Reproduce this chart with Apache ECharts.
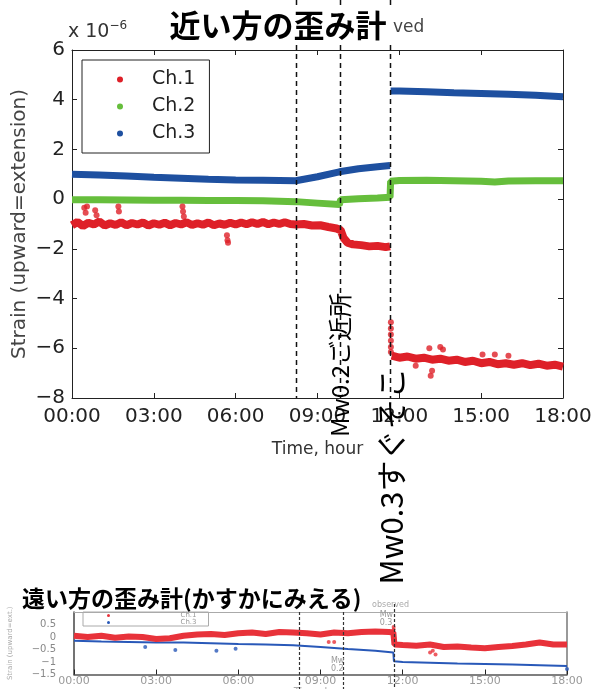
<!DOCTYPE html>
<html><head><meta charset="utf-8">
<script src="https://cdn.jsdelivr.net/npm/echarts@6/dist/echarts.min.js"></script>
<style>html,body{margin:0;padding:0;background:#fff}#c{width:595px;height:689px}</style>
</head><body><div id="c"></div>
<script>
// ---- data (hours, strain x1e-6) ----
const xTickLabels = ['00:00','03:00','06:00','09:00','12:00','15:00','18:00'];
const eventHours = [8.2, 9.82, 11.67];
const legendNames = ['Ch.1','Ch.2','Ch.3'];

const ch1Main = [[0,-1.05],[0.2,-0.92],[0.4,-1.08],[0.6,-0.95],[0.8,-1.02],[1.0,-0.9],[1.2,-1.06],[1.4,-0.97],[1.6,-1.04],[1.8,-0.93],
 [2.0,-1.05],[2.2,-0.96],[2.4,-1.02],[2.6,-0.94],[2.8,-1.06],[3.0,-0.97],[3.2,-1.03],[3.4,-0.95],[3.6,-1.05],[3.8,-0.96],
 [4.0,-1.02],[4.2,-0.93],[4.4,-1.04],[4.6,-0.97],[4.8,-1.03],[5.0,-0.94],[5.2,-1.05],[5.4,-0.98],[5.6,-1.03],[5.8,-0.95],
 [6.0,-1.02],[6.2,-0.94],[6.4,-1.01],[6.6,-0.93],[6.8,-1.0],[7.0,-0.92],[7.2,-1.01],[7.4,-0.94],[7.6,-1.0],[7.8,-0.93],
 [8.0,-1.0],[8.2,-1.02],[8.5,-1.0],[8.8,-1.06],[9.1,-1.05],[9.4,-1.12],[9.7,-1.18],[9.85,-1.25],[9.95,-1.55],[10.1,-1.75],
 [10.3,-1.82],[10.6,-1.85],[10.9,-1.9],[11.2,-1.88],[11.5,-1.93],[11.66,-1.9],[11.67,'-'],
 [11.72,-6.3],[12.0,-6.38],[12.3,-6.33],[12.6,-6.42],[12.9,-6.38],[13.2,-6.46],[13.5,-6.42],[13.8,-6.5],[14.1,-6.46],[14.4,-6.55],
 [14.7,-6.5],[15.0,-6.6],[15.3,-6.55],[15.6,-6.64],[15.9,-6.6],[16.2,-6.66],[16.5,-6.6],[16.8,-6.68],[17.1,-6.62],[17.4,-6.7],
 [17.7,-6.66],[18.0,-6.74]];
const ch1Outliers = [[0.45,-0.35],[0.5,-0.55],[0.55,-0.3],[0.85,-0.45],[0.9,-0.65],[1.7,-0.3],[1.72,-0.5],[4.05,-0.3],[4.07,-0.5],[4.1,-0.7],
 [5.68,-1.45],[5.7,-1.65],[5.72,-1.75],[11.69,-4.95],[11.69,-5.2],[11.69,-5.45],[11.69,-5.7],[11.69,-5.95],[11.69,-6.15],
 [13.1,-6.0],[13.15,-7.1],[13.2,-6.9],[13.5,-5.95],[13.6,-6.05],[15.05,-6.25],[15.5,-6.25],[16.0,-6.3],[12.6,-6.7]];
const ch2Main = [[0,-0.02],[1,-0.02],[2,-0.03],[3,-0.04],[4,-0.04],[5,-0.05],[6,-0.05],[7,-0.06],[8.2,-0.1],[9,-0.16],[9.8,-0.22],
 [9.85,-0.02],[10.5,0.02],[11.2,0.05],[11.66,0.08],[11.68,0.72],[12,0.75],[13,0.76],[14,0.74],[15,0.72],[15.5,0.69],[16,0.73],[17,0.74],[18,0.74]];
const ch3Main = [[0,1.0],[1,0.97],[2,0.93],[3,0.88],[4,0.84],[5,0.8],[6,0.77],[7,0.76],[8.2,0.74],[9,0.9],[9.8,1.1],[10.5,1.22],
 [11.2,1.3],[11.66,1.35],[11.67,'-'],[11.68,4.35],[12,4.35],[13,4.32],[14,4.28],[15,4.25],[16,4.22],[17,4.18],[18,4.12]];

const farCh1 = [[0,0.05],[0.5,0.0],[1,0.05],[1.5,-0.03],[2,0.02],[2.5,0.0],[3,-0.08],[3.5,-0.05],[4,0.05],[4.5,0.1],[5,0.12],[5.5,0.08],
 [6,0.15],[6.5,0.18],[7,0.12],[7.5,0.2],[8,0.18],[8.5,0.15],[9,0.1],[9.5,0.18],[10,0.15],[10.5,0.2],[11,0.22],[11.5,0.2],[11.66,0.18],
 [11.7,-0.3],[12,-0.32],[12.5,-0.35],[13,-0.3],[13.5,-0.4],[14,-0.38],[14.5,-0.42],[15,-0.45],[15.5,-0.4],[16,-0.36],[16.5,-0.3],
 [17,-0.22],[17.5,-0.3],[18,-0.3]];
const farCh1Outliers = [[11.67,0.4],[11.67,0.3],[11.67,0.08],[13.0,-0.62],[13.1,-0.55],[13.2,-0.7],[9.3,-0.2],[9.5,-0.2]];
const farCh3 = [[0,-0.15],[1,-0.18],[2,-0.2],[3,-0.22],[4,-0.22],[5,-0.25],[6,-0.28],[7,-0.3],[8,-0.33],[9,-0.4],[10,-0.48],
 [11,-0.55],[11.66,-0.62],[11.68,-0.97],[12,-1.0],[13,-1.03],[14,-1.06],[15,-1.08],[16,-1.1],[17,-1.13],[18,-1.16]];
const farCh3Outliers = [[2.6,-0.4],[3.7,-0.52],[5.2,-0.55],[5.9,-0.47],[18,-1.28]];

const RED = '#de2028', GREEN = '#66be3c', BLUE = '#1e50a0';
const minus = v => (v < 0 ? '\u2212' : '') + Math.abs(v);
const FONT = '"DejaVu Sans", sans-serif';
const JP = '"Noto Sans CJK JP", sans-serif';

const chart = echarts.init(document.getElementById('c'), null, {renderer: 'canvas'});
const ax = (extra) => Object.assign({
  type: 'value', splitLine: {show: false},
  axisLine: {show: true, onZero: false, lineStyle: {color: '#222', width: 1}},
  axisTick: {show: true, inside: true, length: 5, lineStyle: {color: '#222'}},
}, extra);

chart.setOption({
  animation: false,
  backgroundColor: '#fff',
  grid: [
    {left: 72, top: 50, width: 491, height: 348, outerBoundsMode: 'none', containLabel: false},
    {left: 74, top: 612, width: 493, height: 62.5, outerBoundsMode: 'none', containLabel: false}
  ],
  legend: [
    {data: legendNames, orient: 'vertical', left: 82, top: 60, icon: 'circle', itemWidth: 54, itemHeight: 6, itemGap: 8,
     padding: [10, 14, 10, 35], borderColor: '#222', borderWidth: 1, backgroundColor: '#fff',
     textStyle: {fontSize: 19, color: '#222', fontFamily: FONT}},
    {data: ['Ch.1 far', 'Ch.3 far'], orient: 'vertical', left: 83, top: 612, icon: 'circle', itemWidth: 74, itemHeight: 3, itemGap: 0,
     padding: [0, 12, 0, 24], borderColor: '#aaa', borderWidth: 1, formatter: n => n.split(' ')[0],
     textStyle: {fontSize: 7, color: '#999', fontFamily: FONT, padding: [0, 0, 0, 30]}}
  ],
  xAxis: [
    ax({gridIndex: 0, min: 0, max: 18, interval: 3, position: 'bottom',
      axisLabel: {fontSize: 20, color: '#222', fontFamily: FONT, margin: 9, showMinLabel: true, showMaxLabel: true,
        formatter: v => xTickLabels[Math.round(v / 3)]},
      name: 'Time, hour', nameLocation: 'middle', nameGap: 43, nameMoveOverlap: false,
      nameTextStyle: {fontSize: 17, color: '#333', fontFamily: FONT}}),
    ax({gridIndex: 0, min: 0, max: 18, interval: 3, position: 'top', axisLabel: {show: false}}),
    ax({gridIndex: 1, min: 0, max: 18, interval: 3, position: 'bottom',
      axisLine: {show: true, onZero: false, lineStyle: {color: '#555', width: 1.5}},
      axisLabel: {fontSize: 11, color: '#999', fontFamily: FONT, margin: 1, showMinLabel: true, showMaxLabel: true,
        formatter: v => xTickLabels[Math.round(v / 3)]},
      name: 'Time, hour', nameLocation: 'middle', nameGap: 13, nameMoveOverlap: false,
      nameTextStyle: {fontSize: 10, color: '#aaa', fontFamily: FONT}}),
    ax({gridIndex: 1, min: 0, max: 18, interval: 3, position: 'top', axisLabel: {show: false},
      axisLine: {show: true, onZero: false, lineStyle: {color: '#aaa', width: 1}}, axisTick: {show: false}})
  ],
  yAxis: [
    ax({gridIndex: 0, min: -8, max: 6, interval: 2, position: 'left',
      axisLabel: {fontSize: 20, color: '#222', fontFamily: FONT, margin: 7, formatter: minus},
      name: 'Strain (upward=extension)', nameLocation: 'middle', nameGap: 42, nameRotate: 90, nameMoveOverlap: false,
      nameTextStyle: {fontSize: 20, color: '#444', fontFamily: FONT}}),
    ax({gridIndex: 0, min: -8, max: 6, interval: 2, position: 'right', axisLabel: {show: false}}),
    ax({gridIndex: 1, min: -1.5, max: 1, interval: 0.5, position: 'left',
      axisLine: {show: true, onZero: false, lineStyle: {color: '#444', width: 1.5}}, axisTick: {show: false},
      axisLabel: {fontSize: 10, color: '#888', fontFamily: FONT, margin: 18, showMaxLabel: false, formatter: minus},
      name: 'Strain (upward=ext.)', nameLocation: 'middle', nameGap: 60, nameRotate: 90, nameMoveOverlap: false,
      nameTextStyle: {fontSize: 7, color: '#aaa', fontFamily: FONT}}),
    ax({gridIndex: 1, min: -1.5, max: 1, interval: 0.5, position: 'right', axisLabel: {show: false},
      axisLine: {show: true, onZero: false, lineStyle: {color: '#777', width: 1.5}}, axisTick: {show: false}})
  ],
  series: [
    {name: 'Ch.1', type: 'line', xAxisIndex: 0, yAxisIndex: 0, data: ch1Main, showSymbol: false, color: RED,
     lineStyle: {width: 8, color: RED}, z: 3},
    {name: 'Ch.1', type: 'scatter', xAxisIndex: 0, yAxisIndex: 0, data: ch1Outliers, symbolSize: 6, color: RED, z: 3},
    {name: 'Ch.2', type: 'line', xAxisIndex: 0, yAxisIndex: 0, data: ch2Main, showSymbol: false, color: GREEN,
     lineStyle: {width: 7, color: GREEN}, z: 2},
    {name: 'Ch.3', type: 'line', xAxisIndex: 0, yAxisIndex: 0, data: ch3Main, showSymbol: false, color: BLUE,
     lineStyle: {width: 7, color: BLUE}, z: 2},
    {name: 'Ch.1 far', type: 'line', xAxisIndex: 2, yAxisIndex: 2, data: farCh1, showSymbol: false, color: '#e8323a',
     lineStyle: {width: 6, color: '#e8323a'}, z: 3},
    {name: 'Ch.1 far', type: 'scatter', xAxisIndex: 2, yAxisIndex: 2, data: farCh1Outliers, symbolSize: 4, color: '#e8323a'},
    {name: 'Ch.3 far', type: 'line', xAxisIndex: 2, yAxisIndex: 2, data: farCh3, showSymbol: false, color: '#2858b8',
     lineStyle: {width: 2, color: '#2858b8'}, z: 2},
    {name: 'Ch.3 far', type: 'scatter', xAxisIndex: 2, yAxisIndex: 2, data: farCh3Outliers, symbolSize: 4, color: '#2858b8'}
  ]
});

// ---- annotations placed through the axes' scales ----
const g = [];
const yBot0 = chart.convertToPixel({yAxisIndex: 0}, -8);
const yTop1 = chart.convertToPixel({yAxisIndex: 2}, 1);
const dash = {stroke: '#111', lineWidth: 1.5, lineDash: [5, 4]};
eventHours.forEach((h, i) => {
  const xm = Math.round(chart.convertToPixel({xAxisIndex: 0}, h)) + 0.5;
  const xf = Math.round(chart.convertToPixel({xAxisIndex: 2}, h)) + 0.5;
  g.push({type: 'line', z: 50, shape: {x1: xm, y1: 0, x2: xm, y2: yBot0}, style: dash});
  g.push({type: 'line', z: 50, shape: {x1: xf, y1: i === 2 ? yTop1 - 8 : yTop1, x2: xf, y2: 689},
          style: {stroke: '#333', lineWidth: 1.2, lineDash: [3, 2]}});
});
const xEv2 = chart.convertToPixel({xAxisIndex: 0}, eventHours[1]);
const xEv3 = chart.convertToPixel({xAxisIndex: 0}, eventHours[2]);
g.push(
  {type: 'text', z: 60, x: 393, y: 28, style: {text: 'ved', fontSize: 17, fill: '#444', fontFamily: FONT, verticalAlign: 'middle'}},
  {type: 'text', z: 100, x: 278, y: 25, style: {text: '近い方の歪み計', fontSize: 31, fontWeight: 'bold', fill: '#000', fontFamily: JP,
     align: 'center', verticalAlign: 'middle', backgroundColor: '#fff', padding: [4, 6]}},
  {type: 'text', z: 60, x: 68, y: 32, style: {text: '{a|x 10}{b|−6}', fontFamily: FONT, verticalAlign: 'middle',
     rich: {a: {fontSize: 19, fill: '#333', fontFamily: FONT}, b: {fontSize: 12, fill: '#333', fontFamily: FONT, verticalAlign: 'top', padding: [0, 0, 12, 0]}}}},
  {type: 'text', z: 110, x: xEv2, y: 365, rotation: Math.PI / 2,
   style: {text: 'Mw0.2ご近所', fontSize: 24, fill: '#000', fontFamily: JP, align: 'center', verticalAlign: 'middle'}},
  {type: 'text', z: 110, x: xEv3 + 1, y: 476, rotation: Math.PI / 2,
   style: {text: 'Mw0.3すぐそこ', fontSize: 31, fill: '#000', fontFamily: JP, align: 'center', verticalAlign: 'middle'}},
  {type: 'text', z: 100, x: 20, y: 598, style: {text: '遠い方の歪み計(かすかにみえる)', fontSize: 23, fontWeight: 'bold', fill: '#000',
     fontFamily: JP, verticalAlign: 'middle', backgroundColor: '#fff', padding: [1, 2]}},
  {type: 'text', z: 60, x: 372, y: 605, style: {text: 'observed', fontSize: 8, fill: '#aaa', fontFamily: FONT, verticalAlign: 'middle'}},
  {type: 'text', z: 60, x: chart.convertToPixel({xAxisIndex: 2}, eventHours[1]) - 12, y: 665,
   style: {text: 'Mw\n0.2', fontSize: 8, lineHeight: 8, fill: '#999', fontFamily: FONT, verticalAlign: 'middle'}},
  {type: 'text', z: 60, x: chart.convertToPixel({xAxisIndex: 2}, eventHours[2]) - 14, y: 619,
   style: {text: 'Mw\n0.3', fontSize: 8, lineHeight: 8, fill: '#999', fontFamily: FONT, verticalAlign: 'middle'}}
);
chart.setOption({graphic: g});
</script></body></html>
